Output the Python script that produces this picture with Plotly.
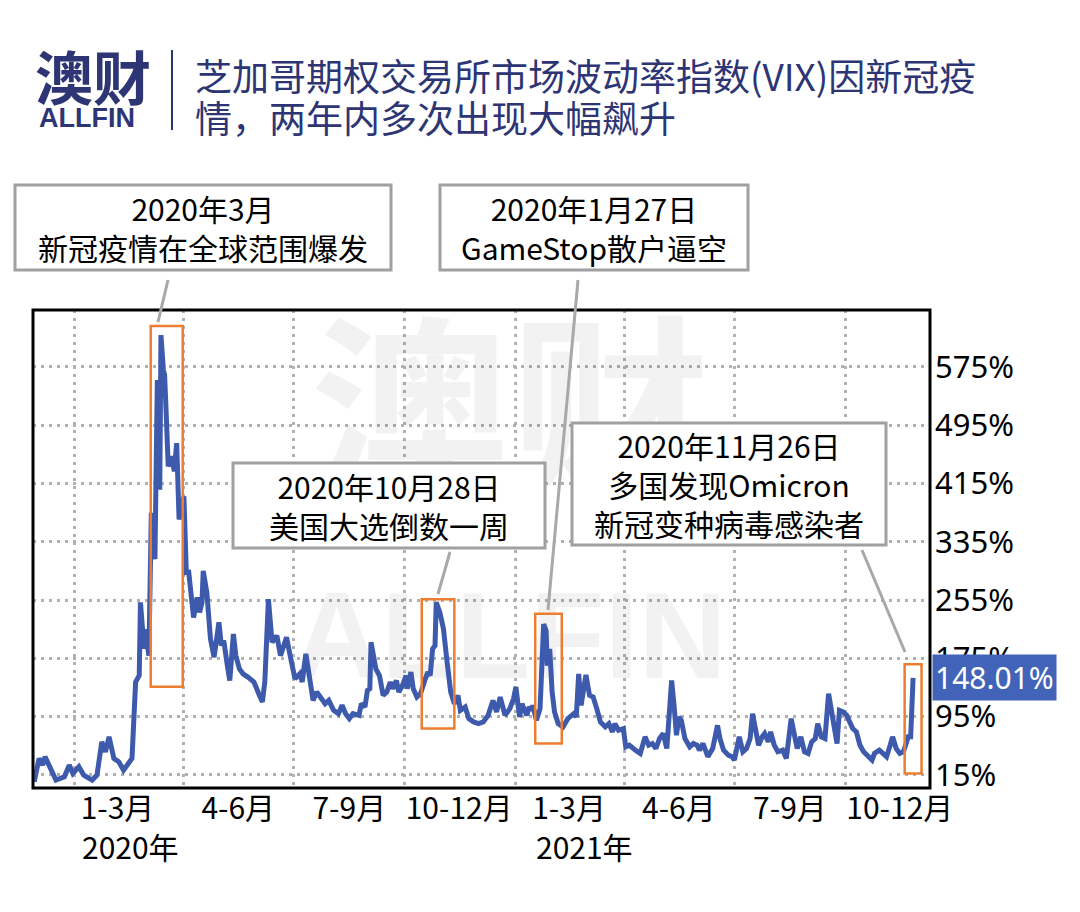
import plotly.graph_objects as go

# ---------------- data ----------------
dates = [
    "2019-11-29", "2019-12-03", "2019-12-06", "2019-12-08", "2019-12-17", "2019-12-24", "2019-12-28", "2019-12-31",
    "2020-01-05", "2020-01-09", "2020-01-16", "2020-01-20", "2020-01-24", "2020-01-27", "2020-01-30", "2020-02-03",
    "2020-02-07", "2020-02-11", "2020-02-18", "2020-02-21", "2020-02-24", "2020-02-25", "2020-02-28", "2020-02-29",
    "2020-03-03", "2020-03-05", "2020-03-08", "2020-03-10", "2020-03-12", "2020-03-13", "2020-03-15", "2020-03-16",
    "2020-03-17", "2020-03-19", "2020-03-22", "2020-03-24", "2020-03-26", "2020-03-28",
    "2020-04-01", "2020-04-03", "2020-04-05", "2020-04-09", "2020-04-12", "2020-04-14", "2020-04-16", "2020-04-17",
    "2020-04-20", "2020-04-23", "2020-04-26", "2020-04-30",
    "2020-05-02", "2020-05-04", "2020-05-07", "2020-05-09", "2020-05-12", "2020-05-14", "2020-05-17", "2020-05-20",
    "2020-05-24", "2020-05-29",
    "2020-06-02", "2020-06-05", "2020-06-07", "2020-06-10", "2020-06-13", "2020-06-17", "2020-06-20", "2020-06-25",
    "2020-06-28",
    "2020-07-02", "2020-07-06", "2020-07-08", "2020-07-11", "2020-07-13", "2020-07-17", "2020-07-20", "2020-07-24",
    "2020-07-27", "2020-07-30",
    "2020-08-03", "2020-08-07", "2020-08-10", "2020-08-13", "2020-08-16", "2020-08-19", "2020-08-24", "2020-08-26",
    "2020-08-29", "2020-08-31",
    "2020-09-02", "2020-09-03", "2020-09-06", "2020-09-07", "2020-09-10", "2020-09-13", "2020-09-16", "2020-09-19",
    "2020-09-21", "2020-09-24", "2020-09-26", "2020-09-29",
    "2020-10-02", "2020-10-03", "2020-10-06", "2020-10-08", "2020-10-11", "2020-10-14", "2020-10-18", "2020-10-20",
    "2020-10-22", "2020-10-24", "2020-10-26", "2020-10-27", "2020-10-30",
    "2020-11-02", "2020-11-05", "2020-11-08", "2020-11-11", "2020-11-14", "2020-11-16", "2020-11-20", "2020-11-23",
    "2020-11-27",
    "2020-12-01", "2020-12-05", "2020-12-09", "2020-12-13", "2020-12-16", "2020-12-19", "2020-12-23", "2020-12-27",
    "2020-12-30",
    "2021-01-01", "2021-01-04", "2021-01-06", "2021-01-10", "2021-01-12", "2021-01-14", "2021-01-15", "2021-01-18",
    "2021-01-21", "2021-01-24", "2021-01-26", "2021-01-27", "2021-01-29", "2021-01-31",
    "2021-02-02", "2021-02-05", "2021-02-09", "2021-02-13", "2021-02-18", "2021-02-20", "2021-02-22", "2021-02-24",
    "2021-02-26", "2021-02-28",
    "2021-03-03", "2021-03-06", "2021-03-09", "2021-03-12", "2021-03-16", "2021-03-19", "2021-03-22", "2021-03-24",
    "2021-03-27", "2021-03-31",
    "2021-04-02", "2021-04-05", "2021-04-10", "2021-04-14", "2021-04-18", "2021-04-21", "2021-04-24", "2021-04-27",
    "2021-04-30",
    "2021-05-03", "2021-05-06", "2021-05-10", "2021-05-12", "2021-05-14", "2021-05-16", "2021-05-18", "2021-05-21",
    "2021-05-25", "2021-05-28", "2021-05-31",
    "2021-06-02", "2021-06-05", "2021-06-09", "2021-06-13", "2021-06-17", "2021-06-19", "2021-06-22", "2021-06-26",
    "2021-06-29",
    "2021-07-01", "2021-07-05", "2021-07-08", "2021-07-11", "2021-07-14", "2021-07-16", "2021-07-19", "2021-07-21",
    "2021-07-24", "2021-07-26", "2021-07-29", "2021-07-31",
    "2021-08-03", "2021-08-06", "2021-08-10", "2021-08-13", "2021-08-17", "2021-08-20", "2021-08-22", "2021-08-25",
    "2021-08-28", "2021-08-31",
    "2021-09-03", "2021-09-06", "2021-09-08", "2021-09-11", "2021-09-14", "2021-09-17", "2021-09-20", "2021-09-22",
    "2021-09-24", "2021-09-26", "2021-09-29",
    "2021-10-02", "2021-10-05", "2021-10-07", "2021-10-10", "2021-10-13", "2021-10-16", "2021-10-20", "2021-10-23",
    "2021-10-25", "2021-10-29",
    "2021-11-01", "2021-11-04", "2021-11-07", "2021-11-09", "2021-11-12", "2021-11-15", "2021-11-18", "2021-11-22",
    "2021-11-24", "2021-11-26",
]

vix_pct = [
    5.7, 37.5, 28.4, 39.9, 7.9, 12.5, 28.4, 17,
    26.2, 14.7, 7.9, 14.7, 60.4, 46.7, 67.2, 37.5, 33, 21.6, 37.5, 142.4, 151.5, 251.7, 188, 215,
    178.7, 374.7, 311, 556.8, 406.5, 618.5, 570.7, 563.9, 525, 438.4, 452, 431.5, 470.3, 365.5,
    397.3, 292.7, 293, 231, 258.5, 238, 251.7, 295, 265.3, 201.5, 176.5, 224.4,
    192.5, 199.2, 165, 144.5, 208.3, 178.7, 160.5, 153.7, 149.2, 142.4,
    126.4, 115, 142.4, 256.2, 197, 206, 178.7, 203.8, 178.7,
    146.9, 153.7, 142.4, 181, 160.5, 117.2, 128.7, 119.5, 112.7, 117.2,
    103.5, 99, 110.4, 99, 92.2, 99, 96.7, 112.7, 108.2, 130.9,
    133.2, 197, 174.2, 160.5, 151.4, 124.1, 128.7, 142.4, 133.2, 144.5, 128.7, 137.7,
    151.4, 133.2, 156, 133.2, 121.8, 126.4, 146.9, 156, 151.4, 188, 192.5, 251.7, 238,
    215.2, 169.7, 128.7, 112.7, 124.1, 103.5, 108.2, 92.2, 87.7,
    85.4, 87.7, 96.7, 117.2, 101.4, 121.8, 96.7, 105.9, 119.5,
    135.5, 94.5, 112.7, 96.7, 108.2, 103.5, 110.4, 89.9, 105.9, 222, 212.9, 165, 188, 128.7,
    101.4, 85.4, 80.9, 92.2, 99, 94.5, 153.7, 110.4, 130.9, 152.3,
    124.1, 121.8, 105.9, 87.7, 80.9, 85.4, 74, 85.4, 76.2, 78.5,
    53.5, 55.7, 48.9, 44.4, 67.2, 55.7, 58, 51.2, 64.9,
    71.7, 51.2, 144.5, 110.4, 69.4, 94.5, 89.9, 64.9, 53.5, 58, 55.7,
    48.9, 58, 39.9, 51.2, 83, 64.9, 48.9, 42.1, 39.9,
    35.3, 67.2, 46.7, 51.2, 64.9, 99, 74, 55.7, 67.2, 71.7, 60.4, 74,
    55.7, 46.7, 48.9, 37.5, 92.2, 69.4, 51.2, 67.2, 46.7, 44.4,
    60.4, 64.9, 85.4, 67.2, 64.9, 126.4, 96.7, 78.5, 58, 103.5, 101.4,
    96.7, 87.7, 78.5, 74, 55.7, 46.7, 39.9, 35.3, 44.4, 48.9,
    44.4, 39.9, 55.7, 67.2, 51.2, 44.4, 46.7, 67.2, 67.2, 148.01,
]
assert len(dates) == len(vix_pct)

quarter_starts = ["2020-01-01", "2020-04-01", "2020-07-01", "2020-10-01",
                  "2021-01-01", "2021-04-01", "2021-07-01", "2021-10-01"]
quarter_label_pos = ["2020-02-06", "2020-05-16", "2020-08-16", "2020-11-15",
                     "2021-02-14", "2021-05-16", "2021-08-16", "2021-11-15"]
quarter_labels = ["1-3月", "4-6月", "7-9月", "10-12月", "1-3月", "4-6月", "7-9月", "10-12月"]
year_labels = ["2020年", "2021年"]
year_positions = ["2020-02-17", "2021-02-27"]

y_ticks = [15, 95, 175, 255, 335, 415, 495, 575]
y_tick_text = [f"{v}%" for v in y_ticks]
last_value_label = "148.01%"

# highlighted periods (orange boxes): date span and value span
highlight_x0 = ["2020-03-04 12:00", "2020-10-15", "2021-01-17", "2021-11-19"]
highlight_x1 = ["2020-03-31", "2020-11-11", "2021-02-08", "2021-12-03"]
highlight_y0 = [136, 78.5, 58, 17]
highlight_y1 = [631, 256, 236, 167]

callout_texts = [
    "2020年3月<br>新冠疫情在全球范围爆发",
    "2020年1月27日<br>GameStop散户逼空",
    "2020年10月28日<br>美国大选倒数一周",
    "2020年11月26日<br>多国发现Omicron<br>新冠变种病毒感染者",
]

title_line1 = "芝加哥期权交易所市场波动率指数(VIX)因新冠疫"
title_line2 = "情，两年内多次出现大幅飙升"

# ---------------- layout helpers ----------------
W, H = 1080, 912
PL, PR, PT, PB = 33, 930, 310, 788  # plot area in pixels


def px(xp):
    return (xp - PL) / (PR - PL)


def py(yp):
    return (PB - yp) / (PB - PT)


LINE_COLOR = "#3d5aad"
NAVY = "#2d3574"
CJK = "Noto Sans CJK SC"
WM = "rgba(0,0,0,0.05)"

fig = go.Figure()

# watermark as background text (drawn beneath the line)
fig.add_trace(go.Scatter(
    x=["2020-12-27", "2020-12-27"], y=[480, 190], mode="text",
    text=["<b>澳财</b>", "<b>ALLFIN</b>"],
    textfont=dict(family=[CJK, "Liberation Sans"], size=[200, 122], color=WM),
    hoverinfo="skip", showlegend=False, cliponaxis=False,
))

fig.add_trace(go.Scatter(
    x=dates, y=vix_pct, mode="lines",
    line=dict(color=LINE_COLOR, width=5),
    hoverinfo="skip", showlegend=False,
))

shapes = []
annotations = []

# plot border
shapes.append(dict(type="rect", xref="paper", yref="paper", x0=0, x1=1, y0=0, y1=1,
                   line=dict(color="black", width=3), layer="above"))

# orange highlight boxes (data coordinates)
for x0, x1, y0, y1 in zip(highlight_x0, highlight_x1, highlight_y0, highlight_y1):
    shapes.append(dict(type="rect", xref="x", yref="y", x0=x0, x1=x1, y0=y0, y1=y1,
                       line=dict(color="#ed7d31", width=2.5), layer="above"))

# callout boxes (pixel positions -> paper)
callout_boxes = [(15, 391, 185, 270), (440, 748, 185, 270), (233, 545, 463, 548), (572, 886, 423, 545)]
pointer_lines = [(168, 280, 158, 322), (578, 280, 548, 610), (450, 552, 438, 594), (862, 550, 905, 652)]
for (x0, x1, y0, y1), txt in zip(callout_boxes, callout_texts):
    shapes.append(dict(type="rect", xref="paper", yref="paper", x0=px(x0), x1=px(x1), y0=py(y1), y1=py(y0),
                       line=dict(color="#a0a0a0", width=3), fillcolor="white", layer="above"))
    annotations.append(dict(xref="paper", yref="paper", x=px((x0 + x1) / 2), y=py((y0 + y1) / 2),
                            text=txt, showarrow=False, align="center",
                            font=dict(family=CJK, size=30, color="black"),
                            xanchor="center", yanchor="middle"))
for xa, ya, xb, yb in pointer_lines:
    shapes.append(dict(type="line", xref="paper", yref="paper", x0=px(xa), y0=py(ya), x1=px(xb), y1=py(yb),
                       line=dict(color="#a8a8a8", width=3), layer="above"))

# last value label on the right
annotations.append(dict(xref="paper", yref="y", x=1.0, y=vix_pct[-1], text=last_value_label,
                        showarrow=False, xanchor="left", yanchor="middle", xshift=2,
                        bgcolor="#4264b8", borderpad=2,
                        font=dict(family="Noto Sans", size=30, color="white")))

# year labels under the x axis
for yl, xp in zip(year_labels, year_positions):
    annotations.append(dict(xref="x", yref="paper", x=xp, y=py(846), text=yl, showarrow=False,
                            xanchor="center", yanchor="middle",
                            font=dict(family=CJK, size=30, color="black")))

# header: logo + title
annotations.append(dict(xref="paper", yref="paper", x=px(33), y=py(75), text="<b>澳财</b>", showarrow=False,
                        xanchor="left", yanchor="middle", font=dict(family=CJK, size=58, color=NAVY)))
annotations.append(dict(xref="paper", yref="paper", x=px(37), y=py(118), text="<b>ALLFIN</b>", showarrow=False,
                        xanchor="left", yanchor="middle", font=dict(family="Liberation Sans", size=27, color=NAVY)))
shapes.append(dict(type="line", xref="paper", yref="paper", x0=px(172), x1=px(172), y0=py(50), y1=py(130),
                   line=dict(color=NAVY, width=2)))
annotations.append(dict(xref="paper", yref="paper", x=px(193), y=py(75), text=title_line1, showarrow=False,
                        xanchor="left", yanchor="middle", font=dict(family=CJK, size=37, color=NAVY)))
annotations.append(dict(xref="paper", yref="paper", x=px(193), y=py(117), text=title_line2, showarrow=False,
                        xanchor="left", yanchor="middle", font=dict(family=CJK, size=37, color=NAVY)))

GRID = dict(gridcolor="#b0b0b0", griddash="3px,5px", gridwidth=2.5)

fig.update_layout(
    width=W, height=H, autosize=False,
    margin=dict(l=PL, r=W - PR, t=PT, b=H - PB),
    paper_bgcolor="white", plot_bgcolor="white",
    showlegend=False,
    shapes=shapes, annotations=annotations,
    xaxis=dict(
        type="date", range=["2019-11-28", "2021-12-10"],
        tickmode="array", tickvals=quarter_label_pos, ticktext=quarter_labels,
        showgrid=False, zeroline=False, showline=False, ticks="",
        tickfont=dict(family=CJK, size=30, color="black"),
        minor=dict(tickmode="array", tickvals=quarter_starts, showgrid=True, ticks="", **GRID),
        automargin=False, fixedrange=True,
    ),
    yaxis=dict(
        range=[-3, 653], side="right",
        tickmode="array", tickvals=y_ticks, ticktext=y_tick_text,
        showgrid=True, zeroline=False, showline=False, ticks="",
        tickfont=dict(family="Noto Sans", size=31, color="black"),
        ticklabelstandoff=4,
        automargin=False, fixedrange=True, **GRID,
    ),
)

fig.write_html("out.html")
